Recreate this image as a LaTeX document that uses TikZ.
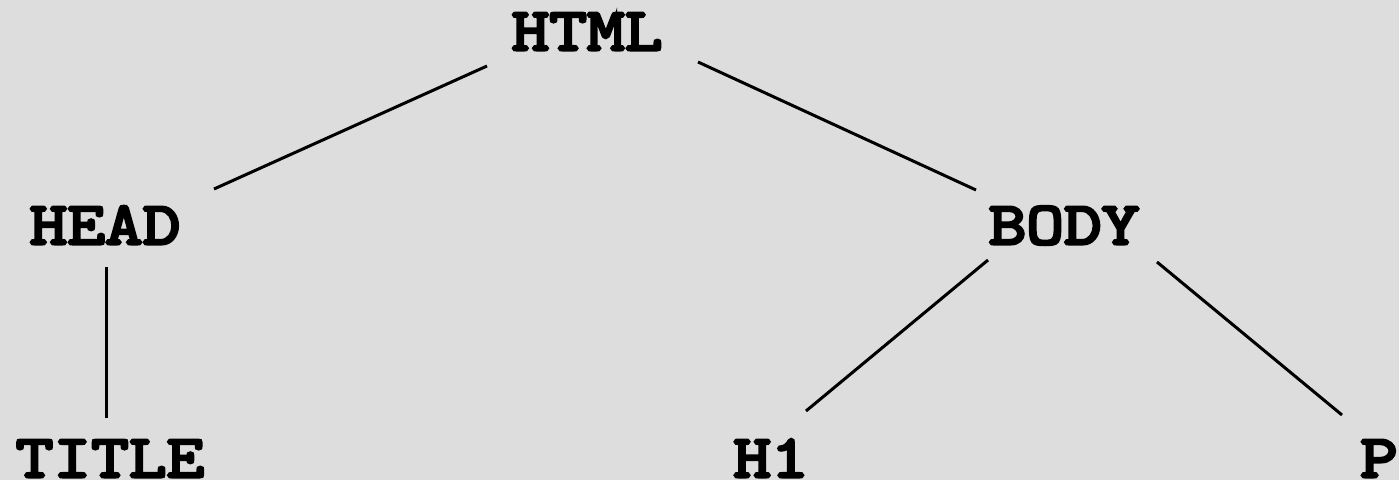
\documentclass[tikz,border=0pt]{standalone}
\usepackage{fontspec}
\newfontfamily\tagfont{Latin Modern Mono}[FakeBold=5, FakeStretch=1.21]
\begin{document}
\begin{tikzpicture}[x=1pt,y=-1pt,
  tag/.style={inner sep=0pt, anchor=base, font=\tagfont\fontsize{60.5}{64}\selectfont, text=black},
  edge/.style={line width=3pt, black}]
\fill[fill={rgb,255:red,221;green,221;blue,221}] (0,0) rectangle (1399,480);
\useasboundingbox (0,0) rectangle (1399,480);
\node[tag] (html) at (587,50) {HTML};
\node[tag] (head) at (105,244) {HEAD};
\node[tag] (body) at (1064,244) {BODY};
\node[tag] (title) at (110,477) {TITLE};
\node[tag] (h1) at (771,477) {H1};
\node[tag,anchor=base west] (p) at (1360,477) {P};
\draw[edge] ([shift={(-100,16)}]html.base) -- ([shift={(109,-55)}]head.base);
\draw[edge] ([shift={(111,12)}]html.base) -- ([shift={(-88,-54)}]body.base);
\draw[edge] ([shift={(1,23)}]head.base) -- ([shift={(-4,-59)}]title.base);
\draw[edge] ([shift={(-76,16)}]body.base) -- ([shift={(35,-66)}]h1.base);
\draw[edge] ([shift={(93,18)}]body.base) -- ([shift={(-18,-62)}]p.base west);
\end{tikzpicture}
\end{document}
